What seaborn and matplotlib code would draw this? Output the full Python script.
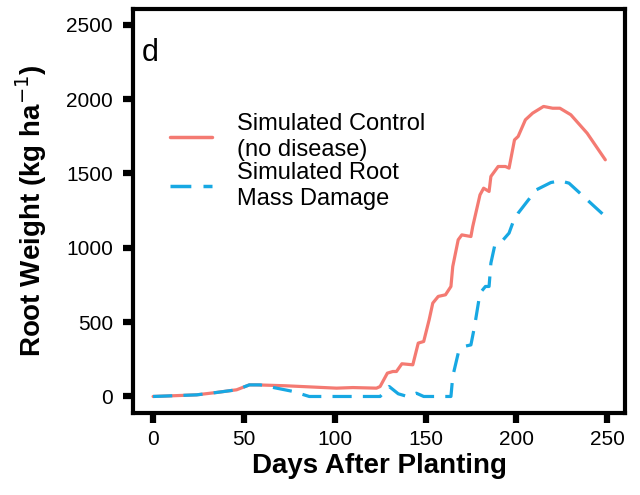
import numpy as np
import pandas as pd
import matplotlib
matplotlib.use("Agg")
import matplotlib.pyplot as plt
import seaborn as sns

# Simulated Control (no disease)
control_days = [0, 7, 24, 35, 46, 53, 57, 73, 101, 110, 123, 125, 129, 132, 134, 137, 143,
                146, 149, 152, 154, 157, 161, 164, 165, 168, 170, 175, 176, 180, 182, 185,
                186, 190, 194, 196, 199, 201, 205, 209, 215, 220, 224, 230, 239, 249]
control_vals = [0, 3, 11, 27, 45, 78, 78, 72, 56, 60, 56, 67, 157, 168, 168, 220, 213,
                359, 370, 516, 628, 673, 684, 740, 874, 1054, 1087, 1076, 1143, 1356, 1401, 1379,
                1480, 1547, 1547, 1536, 1726, 1749, 1861, 1906, 1951, 1939, 1939, 1895, 1771, 1592]

# Simulated Root Mass Damage
damage_days = [0, 7, 24, 35, 46, 53, 59, 68, 77, 86, 125, 130, 135, 140, 145, 149, 164,
               165, 168, 171, 175, 177, 180, 183, 185, 186, 188, 192, 196, 198, 201, 206,
               211, 219, 224, 229, 235, 243, 249]
damage_vals = [0, 3, 11, 27, 45, 78, 78, 56, 34, 0, 0, 67, 18, 0, 22, 0, 0,
               135, 291, 336, 347, 471, 695, 740, 740, 897, 1009, 1043, 1099, 1166, 1233, 1312,
               1390, 1439, 1451, 1435, 1368, 1278, 1211]

labels = ["Simulated Control\n(no disease)", "Simulated Root\nMass Damage"]
colors = ["#F47A72", "#17A8E3"]

df = pd.concat([
    pd.DataFrame({"day": control_days, "val": control_vals, "series": labels[0]}),
    pd.DataFrame({"day": damage_days, "val": damage_vals, "series": labels[1]}),
])

sns.set_theme(style="ticks", rc={"text.color": "black", "axes.labelcolor": "black",
                                 "xtick.color": "black", "ytick.color": "black",
                                 "axes.edgecolor": "black"})
plt.rcParams["font.family"] = ["Liberation Sans", "DejaVu Sans"]

fig = plt.figure(figsize=(6.4, 4.95), dpi=100)
ax = fig.add_axes([0.208, 0.166, 0.769, 0.816])

sns.lineplot(data=df, x="day", y="val", hue="series", style="series",
             palette=dict(zip(labels, colors)),
             dashes={labels[0]: "", labels[1]: (6, 3.5)},
             linewidth=2.3, ax=ax, sort=False, estimator=None)

ax.set_xlim(-11, 260)
ax.set_ylim(-110, 2607)
ax.set_xticks([0, 50, 100, 150, 200, 250])
ax.set_yticks([0, 500, 1000, 1500, 2000, 2500])
ax.tick_params(axis="both", direction="out", length=7.5, width=4.5, color="black",
               labelsize=15, labelcolor="black", bottom=True, left=True)
ax.tick_params(axis="x", pad=5)
ax.tick_params(axis="y", pad=7)
for s in ax.spines.values():
    s.set_visible(True)
    s.set_color("black")
    s.set_linewidth(3)

ax.set_xlabel("Days After Planting", fontsize=20, fontweight="bold", labelpad=3)
ax.set_ylabel("Root Weight (kg ha$^{-1}$)", fontsize=20, fontweight="bold", labelpad=12)

ax.text(0.018, 0.928, "d", transform=ax.transAxes, fontsize=22, va="top", ha="left")

leg = ax.legend(loc="upper left", bbox_to_anchor=(0.075, 0.742), frameon=False,
                fontsize=17, handlelength=1.78, handletextpad=1.06,
                labelspacing=0.08, borderpad=0, borderaxespad=0)
for line in leg.get_lines():
    line.set_linewidth(2.5)
for t in leg.get_texts():
    t.set_linespacing(1.2)

fig.savefig("out.png", dpi=100)
